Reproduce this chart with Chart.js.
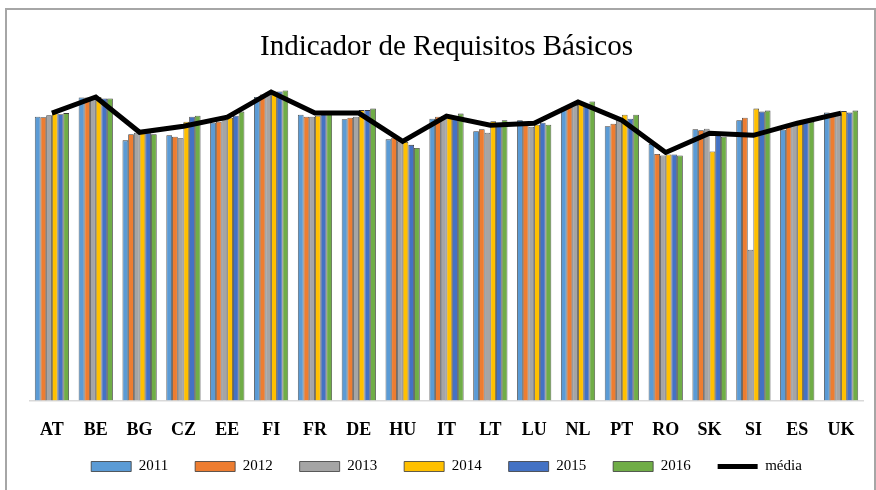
<!DOCTYPE html>
<html>
<head>
<meta charset="utf-8">
<script src="https://cdn.jsdelivr.net/npm/chart.js@4"></script>
<style>
  body { margin: 0; background: #fff; }
  #wrap { position: relative; width: 876px; height: 490px; }
  #frame { position: absolute; left: 5px; top: 8px; width: 867px; height: 490px;
           border-left: 2px solid #a6a6a6; border-top: 2px solid #a6a6a6; border-right: 2px solid #a6a6a6; }
</style>
</head>
<body>
<div id="wrap">
  <canvas id="myChart" width="876" height="490"></canvas>
  <div id="frame"></div>
</div>
<script>
// dados do grafico
var paises = ['AT', 'BE', 'BG', 'CZ', 'EE', 'FI', 'FR', 'DE', 'HU', 'IT', 'LT', 'LU', 'NL', 'PT', 'RO', 'SK', 'SI', 'ES', 'UK'];

var v2011 = [5.63, 6.01, 5.16, 5.26, 5.51, 6.02, 5.67, 5.58, 5.18, 5.59, 5.34, 5.56, 5.81, 5.44, 5.09, 5.38, 5.56, 5.37, 5.71];
var v2012 = [5.62, 6.01, 5.28, 5.23, 5.53, 6.07, 5.63, 5.61, 5.21, 5.63, 5.38, 5.46, 5.83, 5.49, 4.89, 5.36, 5.61, 5.43, 5.69];
var v2013 = [5.66, 6.00, 5.31, 5.20, 5.56, 6.11, 5.63, 5.63, 5.14, 5.64, 5.31, 5.43, 5.86, 5.59, 4.86, 5.39, 2.99, 5.46, 5.71];
var v2014 = [5.70, 6.02, 5.30, 5.53, 5.61, 6.13, 5.65, 5.76, 5.13, 5.67, 5.54, 5.47, 5.89, 5.67, 4.88, 4.94, 5.79, 5.49, 5.74];
var v2015 = [5.68, 5.99, 5.30, 5.63, 5.65, 6.13, 5.68, 5.76, 5.07, 5.63, 5.46, 5.51, 5.85, 5.59, 4.88, 5.26, 5.73, 5.53, 5.71];
var v2016 = [5.70, 5.99, 5.28, 5.65, 5.73, 6.15, 5.68, 5.79, 5.01, 5.69, 5.56, 5.47, 5.93, 5.67, 4.86, 5.23, 5.75, 5.53, 5.75];
var media = [5.70, 6.02, 5.32, 5.44, 5.62, 6.12, 5.70, 5.70, 5.14, 5.64, 5.46, 5.50, 5.92, 5.56, 4.92, 5.30, 5.26, 5.50, 5.70];

var fonte = "'Liberation Serif', 'Times New Roman', serif";

function barra(label, data, cor) {
  return {
    type: 'bar',
    label: label,
    data: data,
    backgroundColor: cor,
    borderColor: '#3a3a3a',
    borderWidth: 0.8,
    pointStyle: 'rect',
    order: 1,
    barPercentage: 1,
    categoryPercentage: 0.78
  };
}

// legenda: menos espaco por cima, para o eixo descer
var ajusteLegenda = {
  id: 'ajusteLegenda',
  afterInit: function (chart) {
    var lg = chart.legend;
    var fit0 = lg.fit, draw0 = lg.draw;
    lg.fit = function () { fit0.apply(this, arguments); this.height -= 20; };
    lg.draw = function () {
      var t = this.top;
      this.top = t - 20;
      draw0.apply(this, arguments);
      this.top = t;
    };
  }
};

var ctx = document.getElementById('myChart');

var myChart = new Chart(ctx, {
  type: 'bar',
  data: {
    labels: paises,
    datasets: [
      barra('2011', v2011, '#5B9BD5'),
      barra('2012', v2012, '#ED7D31'),
      barra('2013', v2013, '#A5A5A5'),
      barra('2014', v2014, '#FFC000'),
      barra('2015', v2015, '#4472C4'),
      barra('2016', v2016, '#70AD47'),
      {
        type: 'line',
        label: 'média',
        data: media,
        borderColor: '#000',
        backgroundColor: '#000',
        borderWidth: 5,
        pointRadius: 0,
        pointStyle: 'line',
        tension: 0,
        order: 0
      }
    ]
  },
  plugins: [ajusteLegenda],
  options: {
    responsive: false,
    animation: false,
    layout: { padding: { left: 30, right: 13, top: 4, bottom: 6 } },
    plugins: {
      title: {
        display: true,
        text: 'Indicador de Requisitos Básicos',
        color: '#000',
        font: { family: fonte, size: 29, weight: 'normal' },
        padding: { top: 26, bottom: 8 }
      },
      legend: {
        position: 'bottom',
        labels: {
          color: '#000',
          font: { family: fonte, size: 15 },
          usePointStyle: true,
          pointStyleWidth: 40,
          boxHeight: 10,
          padding: 27,
          sort: function (a, b) { return a.datasetIndex - b.datasetIndex; }
        }
      },
      tooltip: { enabled: false }
    },
    scales: {
      x: {
        grid: { display: false },
        border: { color: '#d9d9d9', width: 1.5 },
        ticks: {
          color: '#000',
          padding: 11,
          font: { family: fonte, size: 18, weight: 'bold' }
        }
      },
      y: {
        display: false,
        min: 0,
        max: 6.5
      }
    }
  }
});
</script>
</body>
</html>
